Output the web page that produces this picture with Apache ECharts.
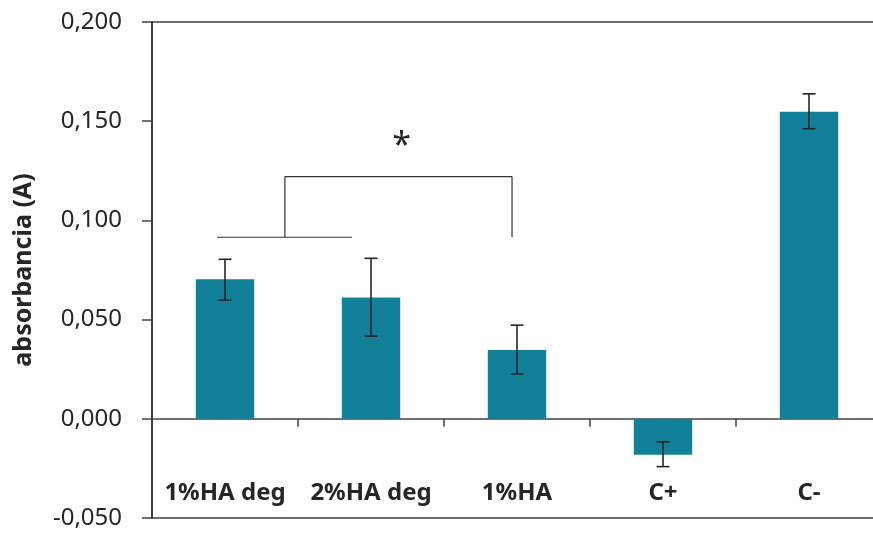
<!DOCTYPE html>
<html>
<head>
<meta charset="utf-8">
<script src="https://cdn.jsdelivr.net/npm/echarts@6/dist/echarts.min.js"></script>
<style>
html,body{margin:0;padding:0;background:#fff;}
#c{width:873px;height:534px;}
</style>
</head>
<body>
<div id="c"></div>
<script>
// ---- data ----
const categories = ['1%HA deg', '2%HA deg', '1%HA', 'C+', 'C-'];
const values     = [0.0704, 0.0612, 0.0347, -0.0181, 0.1548];
const errLow     = [0.0598, 0.0417, 0.0226, -0.0241, 0.1462];
const errHigh    = [0.0804, 0.0809, 0.0472, -0.0116, 0.1638];
const yTicks     = [-0.05, 0, 0.05, 0.1, 0.15, 0.2];
const bracketLevels = [0.0915, 0.1221]; // lower / upper bracket value
const significance = '*';

const chart = echarts.init(document.getElementById('c'));
const textColor = '#262626';
const axisColor = '#404040';

function fmt(v){
  if (Math.abs(v) < 1e-9) v = 0;
  return v.toFixed(3).replace('.', ',');
}

chart.setOption({
  animation: false,
  grid: {
    left: 152, top: 22, width: 730, height: 496,
    containLabel: false, outerBoundsMode: 'none',
    show: true, borderColor: axisColor, borderWidth: 1.5, backgroundColor: 'transparent'
  },
  xAxis: {
    type: 'category',
    data: categories,
    axisLine: { onZero: true, lineStyle: { color: axisColor, width: 1.5 } },
    axisTick: { show: true, interval: 0, length: 8, lineStyle: { color: axisColor, width: 1.5 } },
    axisLabel: { interval: 0, margin: -37, color: textColor, fontFamily: 'Noto Sans', fontWeight: 'bold', fontSize: 24 },
    splitLine: { show: false }
  },
  yAxis: {
    type: 'value',
    min: yTicks[0], max: yTicks[yTicks.length - 1], interval: 0.05,
    name: 'absorbancia (A)',
    nameLocation: 'middle',
    nameGap: 116,
    nameTextStyle: { color: textColor, fontFamily: 'Noto Sans', fontWeight: 'bold', fontSize: 25 },
    axisLine: { show: true, lineStyle: { color: axisColor, width: 2 } },
    axisTick: { show: true, length: 10, lineStyle: { color: axisColor, width: 1.5 } },
    axisLabel: { margin: 30, color: textColor, fontFamily: 'Noto Sans', fontSize: 24, formatter: fmt },
    splitLine: { show: false }
  },
  series: [
    {
      type: 'bar',
      data: values,
      barWidth: '40%',
      itemStyle: { color: '#13809A' },
      z: 2
    },
    {
      type: 'custom',
      data: categories.map((c, i) => [i, errLow[i], errHigh[i]]),
      z: 5,
      renderItem: function (params, api) {
        const i = api.value(0);
        const lo = api.coord([i, api.value(1)]);
        const hi = api.coord([i, api.value(2)]);
        const hw = 6.5;
        const style = { stroke: '#262626', lineWidth: 1.6 };
        return {
          type: 'group',
          children: [
            { type: 'line', shape: { x1: lo[0], y1: lo[1], x2: hi[0], y2: hi[1] }, style },
            { type: 'line', shape: { x1: lo[0] - hw, y1: lo[1], x2: lo[0] + hw, y2: lo[1] }, style },
            { type: 'line', shape: { x1: hi[0] - hw, y1: hi[1], x2: hi[0] + hw, y2: hi[1] }, style }
          ]
        };
      }
    },
    {
      type: 'custom',
      data: [[0, bracketLevels[0], bracketLevels[1]]],
      z: 6,
      renderItem: function (params, api) {
        const c0 = api.coord([0, api.value(1)]);
        const c1 = api.coord([1, api.value(1)]);
        const band = c1[0] - c0[0];
        const yLo = c0[1];
        const yHi = api.coord([0, api.value(2)])[1];
        const X = f => c0[0] + band * f;
        const style = { stroke: '#333333', lineWidth: 1.2 };
        const xl = X(-0.055), xr = X(0.87), xv = X(0.41), xe = X(1.966);
        return {
          type: 'group',
          children: [
            { type: 'line', shape: { x1: xl, y1: yLo, x2: xr, y2: yLo }, style },
            { type: 'line', shape: { x1: xv, y1: yLo, x2: xv, y2: yHi }, style },
            { type: 'line', shape: { x1: xv, y1: yHi, x2: xe, y2: yHi }, style },
            { type: 'line', shape: { x1: xe, y1: yHi, x2: xe, y2: yLo }, style },
            { type: 'text', style: { text: significance, x: X(1.21), y: yHi - 30, align: 'center', verticalAlign: 'middle',
                fontFamily: 'Noto Sans', fontSize: 34, fill: '#262626' } }
          ]
        };
      }
    }
  ]
});
</script>
</body>
</html>
